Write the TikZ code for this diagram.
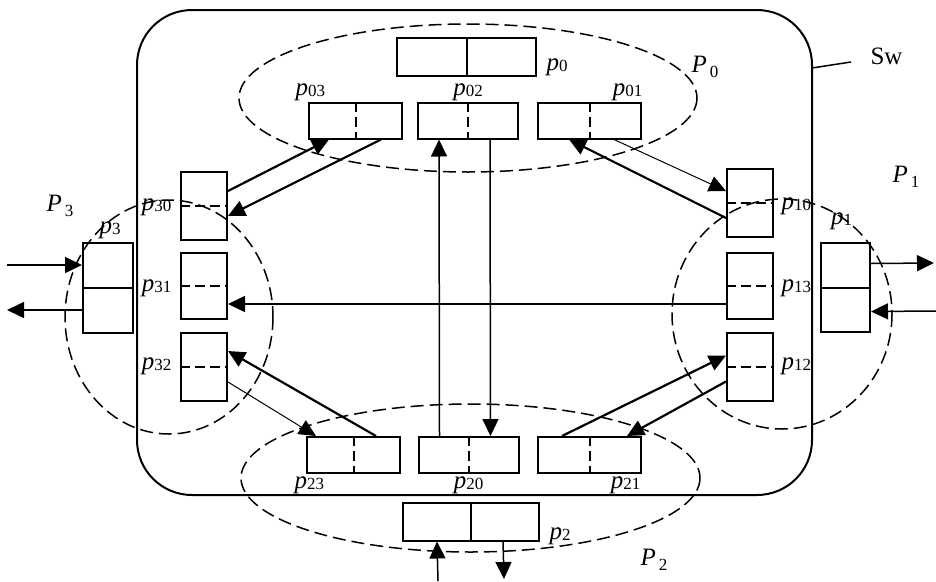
\documentclass[tikz,border=0pt]{standalone}
\usepackage{fontspec}
\setmainfont{Liberation Serif}
\usepackage{tikz}
\usetikzlibrary{arrows.meta,calc}

\newcommand{\plbl}[1]{\textit{p}\raisebox{-1pt}{\fontsize{17}{17}\selectfont #1}}
\newcommand{\Plbl}[1]{\textit{P}\kern3pt\raisebox{-5pt}{\fontsize{17}{17}\selectfont #1}}

\begin{document}
\begin{tikzpicture}[x=1pt,y=-1pt,font=\fontsize{25}{30}\selectfont,>={Triangle[length=17pt,width=16pt]},
  qbox/.style={rectangle,draw=black,line width=2pt,inner sep=0pt},
  vq/.style={qbox,minimum width=46pt,minimum height=68pt},
  hq/.style={qbox,minimum width=100pt,minimum height=36pt},
  grp/.style={draw=black,line width=1.5pt,dash pattern=on 13pt off 6pt},
  split/.style={line width=2pt,dash pattern=on 10pt off 5pt},
  flow/.style={->,line width=1.5pt},
  flow-thin/.style={->,line width=1pt},
  flow-thick/.style={->,line width=2.2pt}]
\useasboundingbox (0,0) rectangle (936,581);

% switch and port groups
\draw[line width=2pt,rounded corners=55pt] (137,10) rectangle (812,495);
\draw[grp] (468,98) ellipse [x radius=229, y radius=74];
\draw[grp] (169,317) ellipse [x radius=104, y radius=117];
\draw[grp] (782,314) ellipse [x radius=110, y radius=115];
\draw[grp] (470.5,478) ellipse [x radius=229.5, y radius=74];

% queues
\node[qbox,minimum width=139pt,minimum height=38pt] (p-0) at (466.5,57) {};
\node[hq,minimum width=93pt] (p-03) at (355.5,120.5) {};
\node[hq] (p-02) at (468,120.5) {};
\node[hq,minimum width=103pt] (p-01) at (589.5,120.5) {};
\node[hq,minimum width=93pt] (p-23) at (353.5,455) {};
\node[hq] (p-20) at (468.5,455) {};
\node[hq,minimum width=103pt] (p-21) at (589.5,455) {};
\node[qbox,minimum width=136pt,minimum height=38pt] (p-2) at (471,521.5) {};
\node[vq] (p-30) at (204,206) {};
\node[vq,minimum height=66pt] (p-31) at (204,286) {};
\node[vq] (p-32) at (204,367) {};
\node[vq] (p-10) at (750,203) {};
\node[vq,minimum height=66pt] (p-13) at (750,286) {};
\node[vq] (p-12) at (750,366.5) {};
\node[qbox,minimum width=50pt,minimum height=90pt] (p-3) at (108,288) {};
\node[qbox,minimum width=49pt,minimum height=89pt] (p-1) at (845.5,287.5) {};

\foreach \q in {p-03,p-02,p-01,p-23,p-20,p-21} \draw[split] (\q.north) -- (\q.south);
\foreach \q in {p-30,p-31,p-32,p-10,p-13,p-12} \draw[split] (\q.west) -- (\q.east);
\foreach \q in {p-0,p-2} \draw[line width=2pt] (\q.north) -- (\q.south);
\foreach \q in {p-3,p-1} \draw[line width=2pt] (\q.west) -- (\q.east);

% labels
\node[anchor=base west] (lbl-p0) at ($(p-0.east)+(6,13)$) {\plbl{0}};
\node[anchor=base west] (lbl-p03) at ($(p-03.north west)+(-16,-6)$) {\plbl{03}};
\node[anchor=base] (lbl-p02) at ($(p-02.north)+(0,-6)$) {\plbl{02}};
\node[anchor=base east] (lbl-p01) at ($(p-01.north east)+(4,-6)$) {\plbl{01}};
\node[anchor=base west] (lbl-p23) at ($(p-23.south west)+(-15,14)$) {\plbl{23}};
\node[anchor=base] (lbl-p20) at ($(p-20.south)+(0,14)$) {\plbl{20}};
\node[anchor=base east] (lbl-p21) at ($(p-21.south east)+(2,14)$) {\plbl{21}};
\node[anchor=base west] (lbl-p2) at ($(p-2.east)+(6,18)$) {\plbl{2}};
\node[anchor=base east] (lbl-p30) at ($(p-30.west)+(-5,4)$) {\plbl{30}};
\node[anchor=base east] (lbl-p31) at ($(p-31.west)+(-5,5)$) {\plbl{31}};
\node[anchor=base east] (lbl-p32) at ($(p-32.west)+(-5,2)$) {\plbl{32}};
\node[anchor=base west] (lbl-p10) at ($(p-10.east)+(4,6)$) {\plbl{10}};
\node[anchor=base west] (lbl-p13) at ($(p-13.east)+(4,5)$) {\plbl{13}};
\node[anchor=base west] (lbl-p12) at ($(p-12.east)+(4,3)$) {\plbl{12}};
\node[anchor=base] (lbl-p3) at ($(p-3.north)+(2,-9)$) {\plbl{3}};
\node[anchor=base] (lbl-p1) at ($(p-1.north)+(-4,-18)$) {\plbl{1}};
\node[anchor=base west] (grp-0) at (688,72) {\Plbl{0}};
\node[anchor=base west] (grp-3) at (43,211) {\Plbl{3}};
\node[anchor=base west] (grp-1) at (889,182) {\Plbl{1}};
\node[anchor=base west] (grp-2) at (637,565) {\Plbl{2}};
\node[anchor=base west] (sw) at (867,64) {Sw};
\coordinate (sw-edge) at (812,68);
\draw[line width=1.5pt] (sw-edge) -- ($(sw.base west)+(-16,-2)$);

% internal flows
\draw[flow-thick] ($(p-30.north east)+(0,20)$) -- ($(p-03.south west)+(21,0)$);
\draw[flow-thick] ($(p-03.south west)+(73,0)$) -- ($(p-30.north east)+(0,45)$);
\draw[flow] ($(p-20.north west)+(22,0)$) -- ($(p-02.south west)+(22,0)$);
\draw[flow] ($(p-02.south west)+(73,0)$) -- ($(p-20.north west)+(73,0)$);
\draw[flow-thick] ($(p-10.north west)+(0,50)$) -- ($(p-01.south west)+(32,0)$);
\draw[flow-thin] ($(p-01.south west)+(77,0)$) -- ($(p-10.north west)+(0,23)$);
\draw[flow] ($(p-13.west)+(0,18)$) -- ($(p-31.east)+(0,18)$);
\draw[flow-thick] ($(p-23.north west)+(70,0)$) -- ($(p-32.north east)+(0,19)$);
\draw[flow-thin] ($(p-32.north east)+(0,50)$) -- ($(p-23.north west)+(10,0)$);
\draw[flow-thick] ($(p-21.north west)+(25,0)$) -- ($(p-12.north west)+(0,24)$);
\draw[flow-thick] ($(p-12.north west)+(0,50)$) -- ($(p-21.north west)+(90,0)$);

% external links
\coordinate (in-3) at (7,265);
\coordinate (out-3) at (7,310);
\coordinate (out-1) at (934,263);
\coordinate (in-1) at (936,311);
\coordinate (in-2) at (438,581);
\coordinate (out-2) at (504,579);
\draw[flow] (in-3) -- ($(p-3.west)+(0,-23)$);
\draw[flow] ($(p-3.west)+(0,22)$) -- (out-3);
\draw[flow] ($(p-1.east)+(0,-24)$) -- (out-1);
\draw[flow] (in-1) -- ($(p-1.east)+(0,24)$);
\draw[flow] (in-2) -- ($(p-2.south west)+(35,0)$);
\draw[flow] ($(p-2.south west)+(101,0)$) -- (out-2);
\end{tikzpicture}
\end{document}
